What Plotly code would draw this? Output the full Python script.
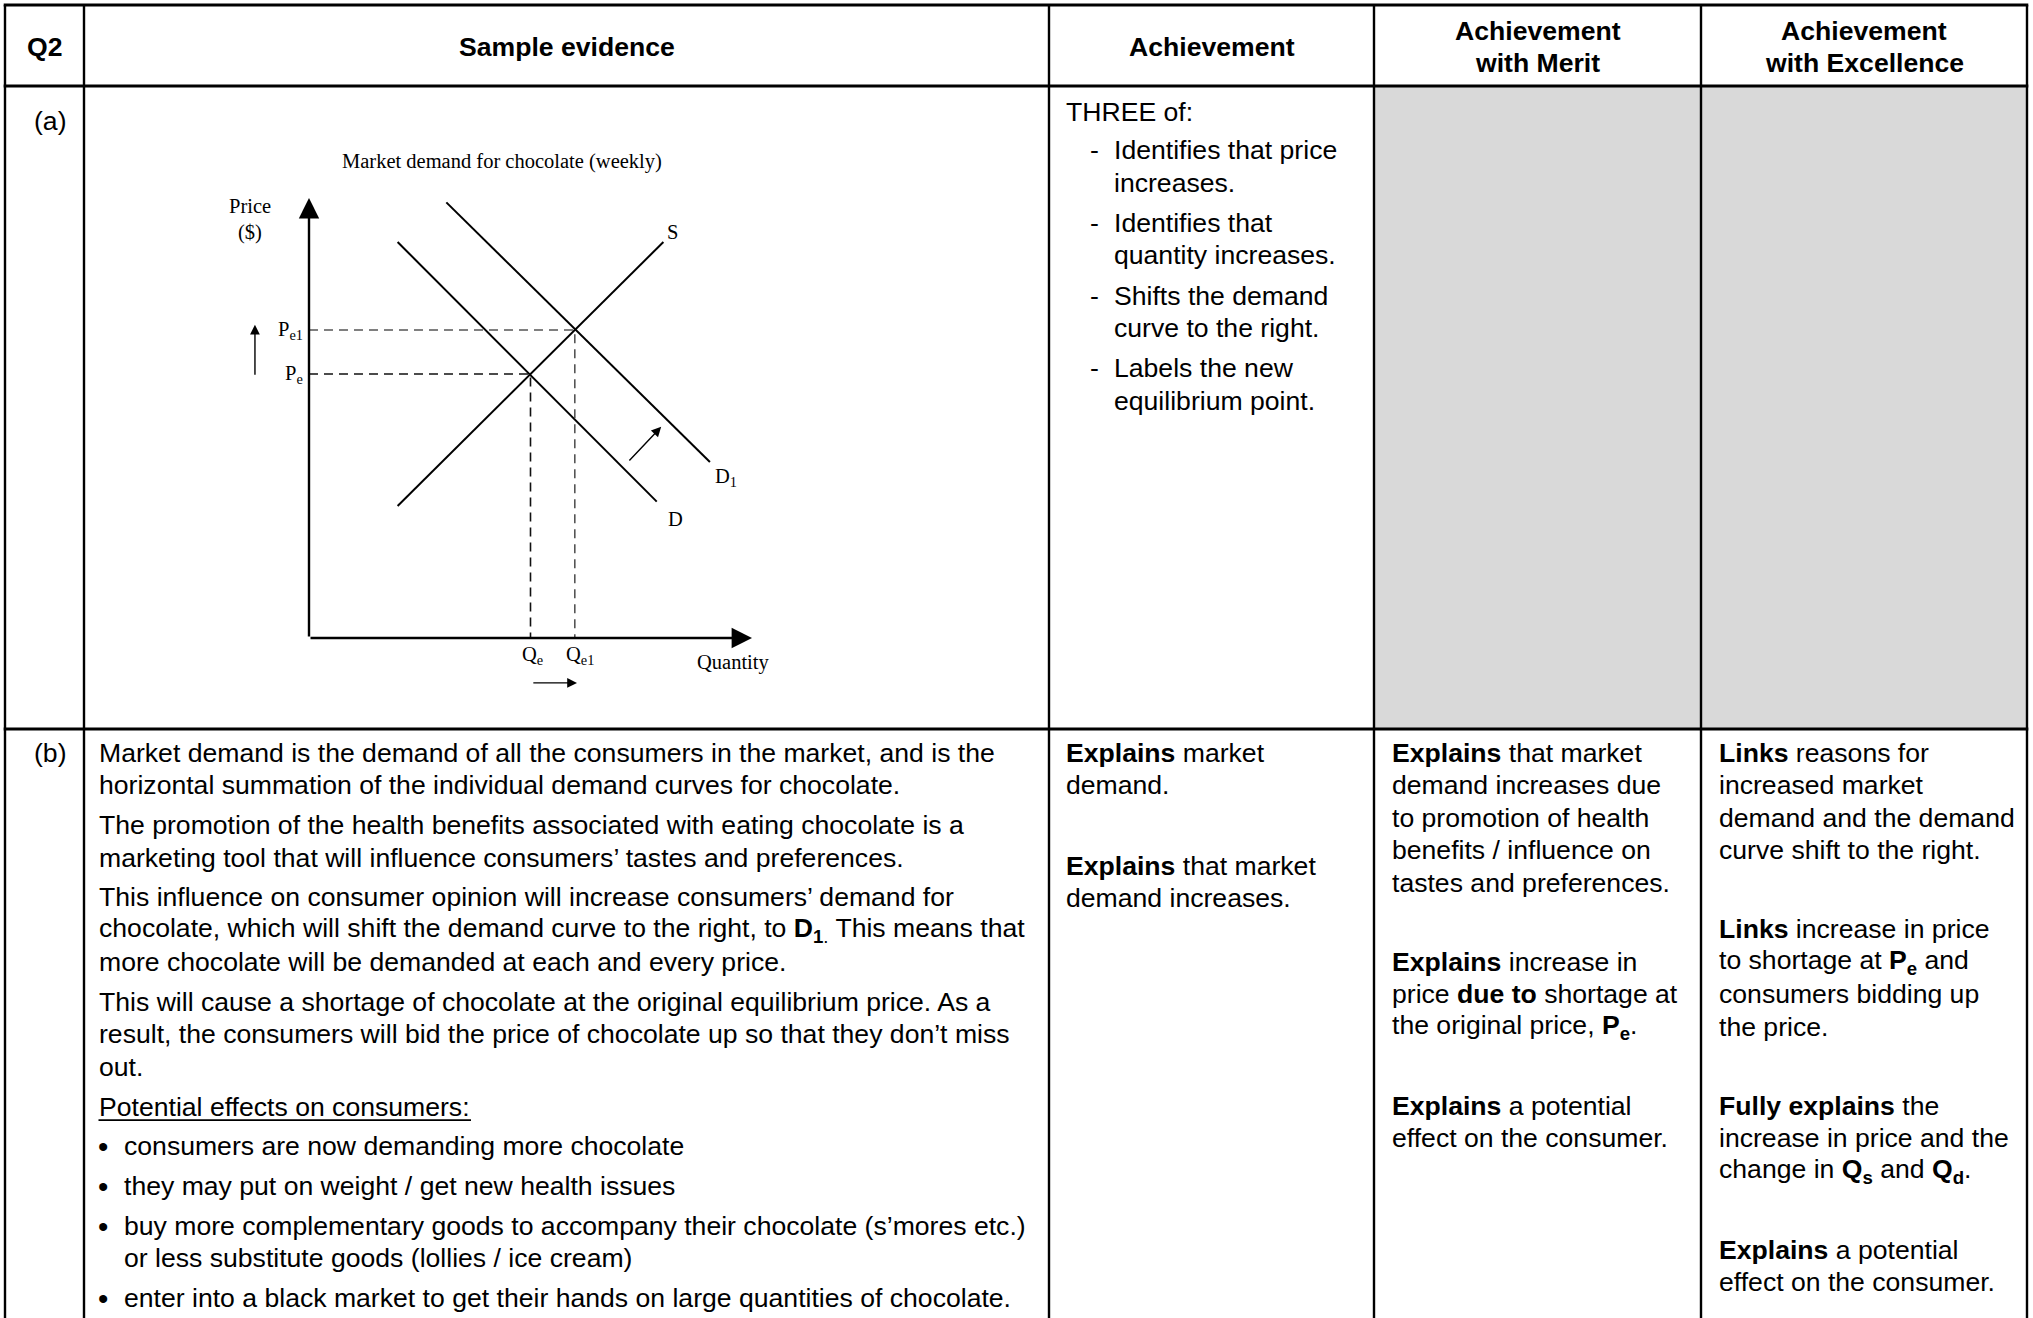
import plotly.graph_objects as go

W, H = 2033, 1318

# ---------------- diagram data (quantity / price units) ----------------
supply_q = [2.0, 8.0]
supply_p = [3.0, 9.0]
demand_q = [2.0, 7.85]
demand_p = [9.0, 3.1]
demand1_q = [3.1, 9.05]
demand1_p = [9.9, 4.0]
eq_q = [5.0, 6.0]      # Qe, Qe1
eq_p = [6.0, 7.0]      # Pe, Pe1
q_max = 10.0
p_max = 10.0

# ---------------- table text ----------------
header_labels = ["Q2", "Sample evidence", "Achievement",
                 "Achievement<br>with Merit", "Achievement<br>with Excellence"]
row_labels = ["(a)", "(b)"]

achv_a_intro = "THREE of:"
achv_a_items = [
    ["Identifies that price", "increases."],
    ["Identifies that", "quantity increases."],
    ["Shifts the demand", "curve to the right."],
    ["Labels the new", "equilibrium point."],
]

sample_b_paras = [
    ["Market demand is the demand of all the consumers in the market, and is the",
     "horizontal summation of the individual demand curves for chocolate."],
    ["The promotion of the health benefits associated with eating chocolate is a",
     "marketing tool that will influence consumers’ tastes and preferences."],
    ["This influence on consumer opinion will increase consumers’ demand for",
     "chocolate, which will shift the demand curve to the right, to <b>D<sub>1</sub></b><sub>.</sub> This means that",
     "more chocolate will be demanded at each and every price."],
    ["This will cause a shortage of chocolate at the original equilibrium price. As a",
     "result, the consumers will bid the price of chocolate up so that they don’t miss",
     "out."],
    ["Potential effects on consumers:"],
]
sample_b_bullets = [
    ["consumers are now demanding more chocolate"],
    ["they may put on weight / get new health issues"],
    ["buy more complementary goods to accompany their chocolate (s’mores etc.)",
     "or less substitute goods (lollies / ice cream)"],
    ["enter into a black market to get their hands on large quantities of chocolate."],
]

achv_b_paras = [
    ["<b>Explains</b> market", "demand."],
    ["<b>Explains</b> that market", "demand increases."],
]
merit_b_paras = [
    ["<b>Explains</b> that market", "demand increases due", "to promotion of health",
     "benefits / influence on", "tastes and preferences."],
    ["<b>Explains</b> increase in", "price <b>due to</b> shortage at",
     "the original price, <b>P<sub>e</sub></b>."],
    ["<b>Explains</b> a potential", "effect on the consumer."],
]
excel_b_paras = [
    ["<b>Links</b> reasons for", "increased market", "demand and the demand",
     "curve shift to the right."],
    ["<b>Links</b> increase in price", "to shortage at <b>P<sub>e</sub></b> and",
     "consumers bidding up", "the price."],
    ["<b>Fully explains</b> the", "increase in price and the",
     "change in <b>Q<sub>s</sub></b> and <b>Q<sub>d</sub></b>."],
    ["<b>Explains</b> a potential", "effect on the consumer."],
]

# ---------------- layout constants ----------------
col_edges = [5, 84, 1049, 1374, 1701, 2027]
row_edges = [5, 86, 729, 1318]
SANS = "Liberation Sans, Arial, sans-serif"
SERIF = "Liberation Serif, Times New Roman, serif"
FS = 26.6
LINE = 32.4

fig = go.Figure()
annotations = []
shapes = []


def txt(x, y, s, size=FS, family=SANS, xanchor="left", xref="x", yref="y", align="left",
        weight="normal"):
    annotations.append(dict(x=x, y=y, xref=xref, yref=yref, text=s, showarrow=False,
                            xanchor=xanchor, yanchor="middle", align=align,
                            font=dict(family=family, size=size, color="black", weight=weight)))


# gray cells
for c in (3, 4):
    shapes.append(dict(type="rect", xref="x", yref="y", x0=col_edges[c], x1=col_edges[c + 1],
                       y0=row_edges[1], y1=row_edges[2], fillcolor="#d9d9d9",
                       line=dict(width=0), layer="below"))
# grid lines
for yy in row_edges[:3]:
    shapes.append(dict(type="line", xref="x", yref="y", x0=col_edges[0] - 1.3, x1=col_edges[-1] + 1.3,
                       y0=yy, y1=yy, line=dict(color="black", width=2.8)))
for xx in col_edges:
    shapes.append(dict(type="line", xref="x", yref="y", x0=xx, x1=xx,
                       y0=row_edges[0], y1=H + 5, line=dict(color="black", width=2.4)))

# header
hy = (row_edges[0] + row_edges[1]) / 2 + 1
for i, lab in enumerate(header_labels):
    cx = (col_edges[i] + col_edges[i + 1]) / 2
    parts = lab.split("<br>")
    if len(parts) == 1:
        txt(cx, hy, lab, xanchor="center", weight="bold")
    else:
        txt(cx, hy - 15.5, parts[0], xanchor="center", weight="bold")
        txt(cx, hy + 16.5, parts[1], xanchor="center", weight="bold")

# row labels
txt(32, 121, row_labels[0])
txt(32, 753, row_labels[1])

# row (a) achievement
ax0 = col_edges[2] + 14.5
txt(ax0, 111.5, achv_a_intro)
y = 150.4
for item in achv_a_items:
    txt(ax0 + 24, y, "-")
    for ln in item:
        txt(ax0 + 48, y, ln)
        y += LINE
    y += 7.8

# row (b) sample evidence
sx0 = col_edges[1] + 13
y = 753
for k, para in enumerate(sample_b_paras):
    for ln in para:
        txt(sx0, y, ln)
        last_y = y
        y += LINE
    y += 7.4
# underline of heading
shapes.append(dict(type="line", xref="x", yref="y", x0=sx0 + 1.5, x1=sx0 + 374,
                   y0=last_y + 13.5, y1=last_y + 13.5, line=dict(color="black", width=1.8)))
for item in sample_b_bullets:
    txt(sx0 - 1, y, "•", size=FS + 3)
    for ln in item:
        txt(sx0 + 25, y, ln)
        y += LINE
    y += 7.4


def block(x0, paras, y0=753, gap=46.8):
    y = y0
    for para in paras:
        for ln in para:
            txt(x0, y, ln)
            y += LINE
        y += gap


block(col_edges[2] + 14.5, achv_b_paras, gap=48)
block(col_edges[3] + 15.5, merit_b_paras)
block(col_edges[4] + 15.5, excel_b_paras)

# ---------------- diagram ----------------
PXU_X, PXU_Y = 44.3, 44.0          # pixels per unit
ORIG_X, ORIG_Y = 309, 638          # origin pixel
XR = [-2.2, 11.2]
YR = [-1.6, 11.6]
x_dom = [(ORIG_X + XR[0] * PXU_X) / W, (ORIG_X + XR[1] * PXU_X) / W]
y_dom = [1 - (ORIG_Y - YR[0] * PXU_Y) / H, 1 - (ORIG_Y - YR[1] * PXU_Y) / H]

line_kw = dict(mode="lines", hoverinfo="skip", showlegend=False, xaxis="x2", yaxis="y2")
fig.add_trace(go.Scatter(x=supply_q, y=supply_p, line=dict(color="black", width=2), **line_kw))
fig.add_trace(go.Scatter(x=demand_q, y=demand_p, line=dict(color="black", width=2), **line_kw))
fig.add_trace(go.Scatter(x=demand1_q, y=demand1_p, line=dict(color="black", width=2), **line_kw))
# dashed guides
fig.add_trace(go.Scatter(x=[0, eq_q[0], eq_q[0]], y=[eq_p[0], eq_p[0], 0],
                         line=dict(color="#111", width=1.6, dash="9px,6px"), **line_kw))
fig.add_trace(go.Scatter(x=[0, eq_q[1], eq_q[1]], y=[eq_p[1], eq_p[1], 0],
                         line=dict(color="#555", width=1.6, dash="9px,6px"), **line_kw))


def arrow(x, y, ax, ay, width=1.5, size=1.3):
    annotations.append(dict(x=x, y=y, ax=ax, ay=ay, xref="x2", yref="y2", axref="x2", ayref="y2",
                            showarrow=True, arrowhead=2, arrowsize=size, arrowwidth=width,
                            arrowcolor="black", text="", standoff=0, startstandoff=0))


# axes with arrowheads
arrow(0, p_max, 0, 0, width=2.4, size=1.7)
arrow(q_max, 0, 0, 0, width=2.4, size=1.7)
# direction arrows
arrow(-1.22, eq_p[1] + 0.12, -1.22, eq_p[0] - 0.05, width=1.4, size=1.4)
arrow(eq_q[1] + 0.05, -1.02, eq_q[0] + 0.03, -1.02, width=1.4, size=1.4)
arrow(7.95, 4.8, 7.2, 4.0, width=1.4, size=1.4)

DS = 20.5
dkw = dict(size=DS, family=SERIF, xref="x2", yref="y2")
txt(4.36, 10.82, "Market demand for chocolate (weekly)", xanchor="center", **dkw)
txt(-1.33, 9.82, "Price", xanchor="center", **dkw)
txt(-1.33, 9.22, "($)", xanchor="center", **dkw)
txt(-0.1, eq_p[1], "P<sub>e1</sub>", xanchor="right", **dkw)
txt(-0.1, eq_p[0], "P<sub>e</sub>", xanchor="right", **dkw)
txt(eq_q[0] + 0.05, -0.4, "Q<sub>e</sub>", xanchor="center", **dkw)
txt(eq_q[1] + 0.12, -0.4, "Q<sub>e1</sub>", xanchor="center", **dkw)
txt(9.57, -0.55, "Quantity", xanchor="center", **dkw)
txt(8.2, 9.23, "S", xanchor="center", **dkw)
txt(8.28, 2.7, "D", xanchor="center", **dkw)
txt(9.42, 3.64, "D<sub>1</sub>", xanchor="center", **dkw)

fig.update_layout(
    width=W, height=H, margin=dict(l=0, r=0, t=0, b=0),
    paper_bgcolor="white", plot_bgcolor="rgba(0,0,0,0)", showlegend=False,
    hovermode=False,
    xaxis=dict(range=[0, W], domain=[0, 1], visible=False, fixedrange=True),
    yaxis=dict(range=[H, 0], domain=[0, 1], visible=False, fixedrange=True),
    xaxis2=dict(range=XR, domain=x_dom, anchor="y2", visible=False, fixedrange=True),
    yaxis2=dict(range=YR, domain=y_dom, anchor="x2", visible=False, fixedrange=True),
    annotations=annotations, shapes=shapes,
)
fig.write_html("out.html", config={"displayModeBar": False, "staticPlot": True},
               post_script="document.body.style.margin='0';")
